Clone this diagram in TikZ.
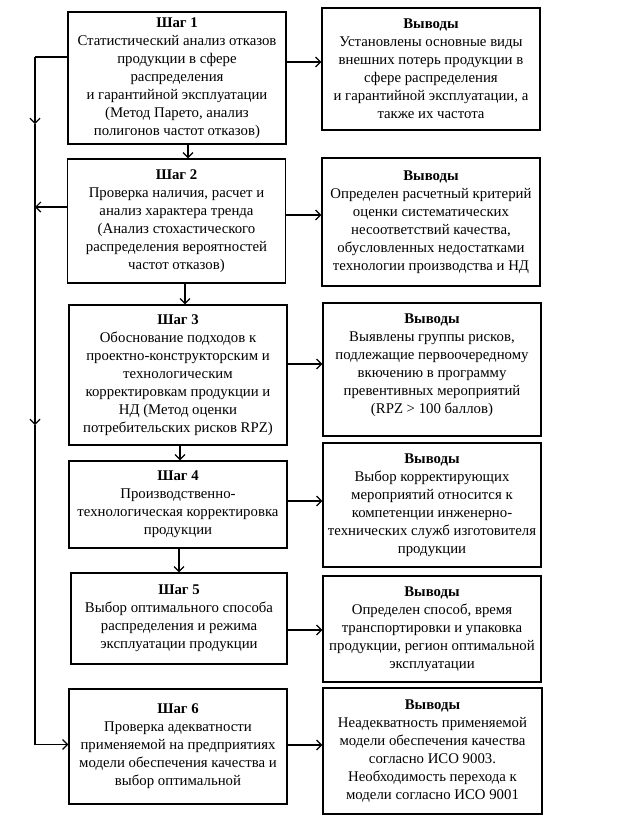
\documentclass[tikz,border=0pt]{standalone}
\usepackage{fontspec}
\setmainfont{Liberation Serif}
\usetikzlibrary{arrows.meta,calc}
\begin{document}
\begin{tikzpicture}[x=1pt,y=-1pt,
  box/.style={draw, line width=1.2pt, align=center, inner sep=1pt, minimum width=218pt,
    font=\fontsize{14.8}{18}\selectfont},
  ln/.style={line width=1.2pt},
  arr/.style={line width=1.2pt, -{Straight Barb[length=5pt,width=10pt,line width=1.2pt]}}]
\useasboundingbox (0,0) rectangle (618,827);

\node[box, minimum height=132pt] (L1) at (177,78) {\textbf{Шаг 1}\\Статистический анализ отказов\\продукции в сфере\\распределения\\и гарантийной эксплуатации\\(Метод Парето, анализ\\полигонов частот отказов)};
\node[box, minimum height=124pt] (L2) at (176.5,221) {\textbf{Шаг 2}\\Проверка наличия, расчет и\\анализ характера тренда\\(Анализ стохастического\\распределения вероятностей\\частот отказов)};
\node[box, minimum height=140pt] (L3) at (178,375) {\textbf{Шаг 3}\\Обоснование подходов к\\проектно-конструкторским и\\технологическим\\корректировкам продукции и\\НД (Метод оценки\\потребительских рисков RPZ)};
\node[box, minimum height=87pt] (L4) at (178,504.5) {\textbf{Шаг 4}\\Производственно-\\технологическая корректировка\\продукции};
\node[box, minimum height=91pt, minimum width=216pt] (L5) at (179,618.5) {\textbf{Шаг 5}\\Выбор оптимального способа\\распределения и режима\\эксплуатации продукции};
\node[box, minimum height=115pt] (L6) at (178,746.5) {\textbf{Шаг 6}\\Проверка адекватности\\применяемой на предприятиях\\модели обеспечения качества и\\выбор оптимальной};

\node[box, minimum height=122pt] (R1) at (431,69) {\textbf{Выводы}\\Установлены основные виды\\внешних потерь продукции в\\сфере распределения\\и гарантийной эксплуатации, а\\также их частота};
\node[box, minimum height=128pt] (R2) at (431,222) {\textbf{Выводы}\\Определен расчетный критерий\\оценки систематических\\несоответствий качества,\\обусловленных недостатками\\технологии производства и НД};
\node[box, minimum height=133pt] (R3) at (432,369.5) {\textbf{Выводы}\\Выявлены группы рисков,\\подлежащие первоочередному\\вкючению в программу\\превентивных мероприятий\\(RPZ > 100 баллов)\\[-6pt]\mbox{}};
\node[box, minimum height=124pt] (R4) at (432,505) {\textbf{Выводы}\\Выбор корректирующих\\мероприятий относится к\\компетенции инженерно-\\технических служб изготовителя\\продукции};
\node[box, minimum height=106pt] (R5) at (432,629) {\textbf{Выводы}\\Определен способ, время\\транспортировки и упаковка\\продукции, регион оптимальной\\эксплуатации};
\node[box, minimum height=126pt, minimum width=219pt] (R6) at (432.5,751) {\textbf{Выводы}\\Неадекватность применяемой\\модели обеспечения качества\\согласно ИСО 9003.\\Необходимость перехода к\\модели согласно ИСО 9001};

% horizontal arrows to conclusions
\draw[arr] ([yshift=16pt]L1.east) -- ([yshift=16pt]L1.east -| R1.west);
\draw[arr] ([yshift=6pt]L2.east) -- ([yshift=6pt]L2.east -| R2.west);
\draw[arr] ([yshift=11pt]L3.east) -- ([yshift=11pt]L3.east -| R3.west);
\draw[arr] ([yshift=3.5pt]L4.east) -- ([yshift=3.5pt]L4.east -| R4.west);
\draw[arr] ([yshift=-11.5pt]L5.east) -- ([yshift=-11.5pt]L5.east -| R5.west);
\draw[arr] ([yshift=1.5pt]L6.east) -- ([yshift=1.5pt]L6.east -| R6.west);

% vertical arrows between steps
\draw[arr] ([xshift=11pt]L1.south) -- ([xshift=11pt]L1.south |- L2.north);
\draw[arr] ([xshift=8.5pt]L2.south) -- ([xshift=8.5pt]L2.south |- L3.north);
\draw[arr] ([xshift=2pt]L3.south) -- ([xshift=2pt]L3.south |- L4.north);
\draw[arr] ([xshift=1pt]L4.south) -- ([xshift=1pt]L4.south |- L5.north);

% left bus
\coordinate (bt) at (35,57);
\coordinate (m1) at (35,124);
\coordinate (b2) at (35,207);
\coordinate (m2) at (35,425);
\coordinate (bb) at (35,744.5);
\draw[ln] ([yshift=21pt]L1.west) -- (bt);
\draw[arr] (bt) -- (m1);
\draw[arr] (m1) -- (m2);
\draw[arr] ([yshift=14pt]L2.west) -- (b2);
\draw[arr] (m2) -- (bb) -- (bb -| L6.west);
\end{tikzpicture}
\end{document}
